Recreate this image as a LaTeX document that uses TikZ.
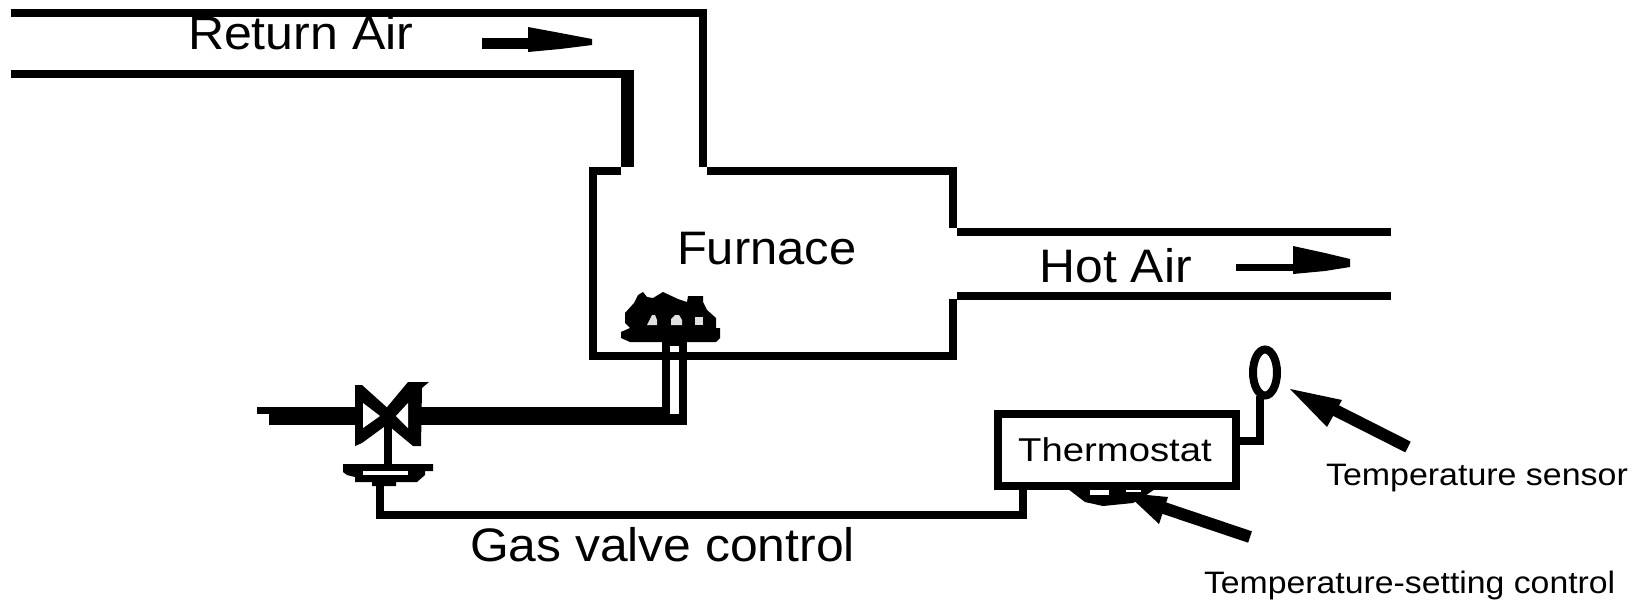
\documentclass[tikz,border=0pt]{standalone}
\usepackage{fontspec}
\usepackage{graphicx}
\usetikzlibrary{shapes.geometric}
\setmainfont{Liberation Sans}
\tikzset{
  wall/.style={draw=black,line width=8pt,line cap=butt,miter limit=10},
  pointer/.style={draw=black,line width=12pt,line cap=butt},
  label/.style={anchor=base west,inner sep=0pt,outer sep=0pt,text=black},
  big/.style={label,font=\fontsize{47}{47}\selectfont},
  small/.style={label,font=\fontsize{31}{31}\selectfont},
  solidblack/.style={fill=black,draw=none},
  spot/.style={fill=black!12,draw=none},
}
\begin{document}
\begin{tikzpicture}[x=1pt,y=-1pt]
\useasboundingbox (0,0) rectangle (1638,600);
\fill[white] (0,0) rectangle (1638,600);

% coordinates
\coordinate (rtL) at (10.6,13);
\coordinate (rtC) at (703,13);
\coordinate (rtE) at (703,167);
\coordinate (rbL) at (10.6,74);
\coordinate (rbR) at (634,74);
\coordinate (rvT) at (627.5,70);
\coordinate (rvB) at (627.5,167);
\coordinate (fTL) at (621,170.5);
\coordinate (fC1) at (593,170.5);
\coordinate (fC2) at (593,356);
\coordinate (fC3) at (953,356);
\coordinate (fC4) at (953,299);
\coordinate (fTR) at (707,170.5);
\coordinate (fC5) at (953,170.5);
\coordinate (fC6) at (953,228);
\coordinate (htL) at (957,231.5);
\coordinate (htR) at (1391,231.5);
\coordinate (hbL) at (957,295.5);
\coordinate (hbR) at (1391,295.5);

% gas feed tube to burner
\fill[black] (662,342) rectangle (687,425);
\fill[white] (670,346) rectangle (679,414);

% ducts and furnace
\draw[wall] (rtL) -- (rtC) -- (rtE);
\draw[wall] (rbL) -- (rbR);
\draw[draw=black,line width=13pt] (rvT) -- (rvB);
\draw[wall] (fTL) -- (fC1) -- (fC2) -- (fC3) -- (fC4);
\draw[wall] (fTR) -- (fC5) -- (fC6);
\draw[wall] (htL) -- (htR);
\draw[wall] (hbL) -- (hbR);

% burner
\fill[solidblack] (621,338) -- (621,332) -- (630,328) -- (625,323) -- (625,313) -- (634,303) -- (638,295) -- (643,292) -- (647,297) -- (653,298) -- (663,292) -- (678,299) -- (687,302) -- (688,296) -- (703,296) -- (703,302) -- (707,310) -- (716,318) -- (716,328) -- (720,328) -- (720,338) -- (716,342) -- (630,342) -- cycle;
\fill[spot] (647,325) -- (650,319) -- (652,315) -- (655,315) -- (657,320) -- (657,325) -- cycle;
\fill[spot] (671,325) -- (671,319) -- (675,315) -- (679,315) -- (682,320) -- (682,325) -- cycle;
\fill[spot] (695,317) rectangle (703,325);

% gas pipe
\fill[black] (257,407) rectangle (355,414);
\fill[black] (269,414) rectangle (355,425);
\fill[black] (421,407) rectangle (670,425);
\fill[black] (670,414) rectangle (687,425);

% valve
\coordinate (stemT) at (388,420);
\coordinate (stemB) at (388,464);
\draw[draw=black,line width=8pt] (stemT) -- (stemB);
\fill[solidblack] (355,385) -- (362,385) -- (392,412) -- (392,421) -- (362,443) -- (355,446) -- cycle;
\fill[solidblack] (408,382) -- (429,382) -- (422,388) -- (421,446) -- (413,446) -- (383,421) -- (383,412) -- cycle;
\fill[white] (363,403) -- (380,416) -- (363,428) -- cycle;
\fill[white] (408,403) -- (396,416) -- (408,428) -- cycle;

% actuator
\fill[solidblack] (343,464) -- (433,464) -- (433,471) -- (425,471) -- (425,475) -- (417,482) -- (396,482) -- (396,486) -- (372,486) -- (372,482) -- (355,482) -- (355,477) -- (347,475) -- (343,472) -- cycle;
\fill[white] (363,471) rectangle (408,475);

% setting dial
\fill[solidblack] (1068,489) -- (1155,489) -- (1142,498) -- (1133,503) -- (1103,506) -- (1085,502) -- cycle;
\fill[white] (1090,490) rectangle (1109,495);
\fill[white] (1126,489) rectangle (1141,492);

% thermostat
\node[draw=black,line width=8pt,fill=white,minimum width=238pt,minimum height=71.5pt,inner sep=0pt,outer sep=0pt,font=\fontsize{33}{33}\selectfont] (thermo) at (1117,449.75) {\kern-4pt\scalebox{1.16}[1]{Thermostat}};

% control line
\coordinate (ctlV) at (380,486);
\coordinate (ctlC) at (380,514.5);
\coordinate (ctlT) at (1023,514.5);
\coordinate (ctlU) at (1023,489);
\draw[wall] (ctlV) -- (ctlC) -- (ctlT) -- (ctlU);

% sensor
\node[draw=black,line width=8pt,ellipse,minimum width=24pt,minimum height=46pt,inner sep=0pt,outer sep=0pt] (sensor) at (1265,372.5) {};
\coordinate (senB) at (1260,396);
\coordinate (senC) at (1260,441);
\coordinate (senT) at (1240,441);
\draw[wall] (senB) -- (senC) -- (senT);

% flow arrows
\coordinate (raS) at (482,43.5);
\coordinate (raE) at (560,43.5);
\draw[draw=black,line width=11pt] (raS) -- (raE);
\fill[solidblack] (528,27) -- (555,32) -- (592,39) -- (592,45) -- (560,49) -- (528,52) -- cycle;
\coordinate (haS) at (1236,267.5);
\coordinate (haE) at (1300,267.5);
\draw[draw=black,line width=7pt] (haS) -- (haE);
\fill[solidblack] (1293,246) -- (1325,253) -- (1350,259) -- (1350,267) -- (1325,271) -- (1293,274) -- cycle;

% pointer arrows
\coordinate (p1S) at (1408,447);
\coordinate (p1E) at (1325,405);
\draw[pointer] (p1S) -- (p1E);
\fill[solidblack] (1290,389) -- (1342,400) -- (1327,427) -- cycle;
\coordinate (p2S) at (1250,537);
\coordinate (p2E) at (1155,505);
\draw[pointer] (p2S) -- (p2E);
\fill[solidblack] (1126,493) -- (1168,497) -- (1159,524) -- cycle;

% labels
\node[big] (lreturn) at (188,49) {\scalebox{1.065}[1]{Return Air}};
\node[big] (lhot) at (1039.5,282) {\scalebox{1.06}[1]{Hot Air}};
\node[big] (lfurn) at (677,264) {\scalebox{1.04}[1]{Furnace}};
\node[big] (lgas) at (470,561) {\scalebox{1.06}[1]{Gas valve control}};
\node[small] (lsens) at (1326,485) {\scalebox{1.095}[1]{Temperature sensor}};
\node[small] (lset) at (1204,593) {\scalebox{1.09}[1]{Temperature-setting control}};
\end{tikzpicture}
\end{document}
